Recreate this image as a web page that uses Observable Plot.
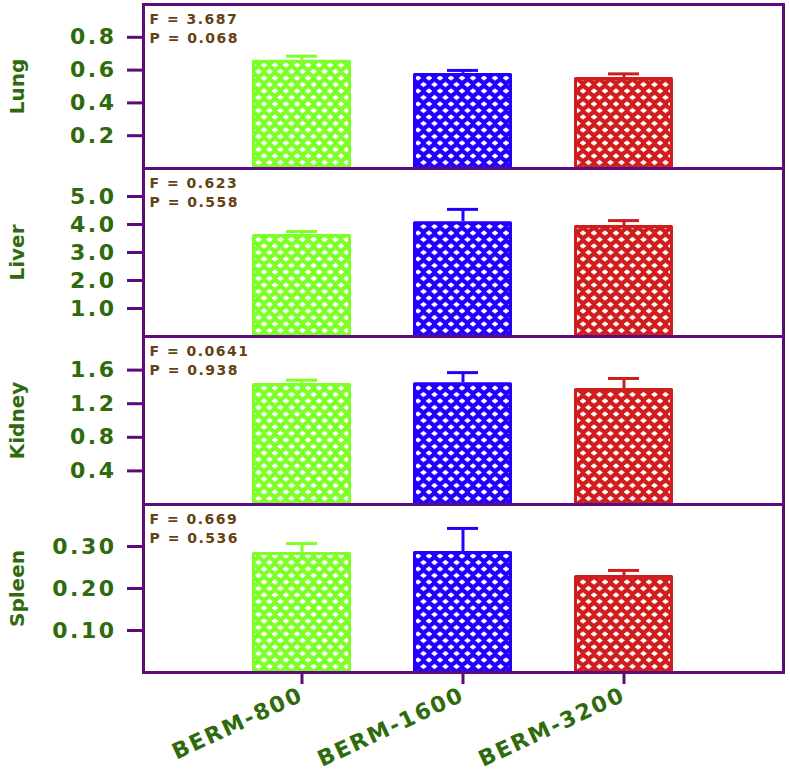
<!DOCTYPE html>
<html>
<head>
<meta charset="utf-8">
<script src="https://cdn.jsdelivr.net/npm/d3@7"></script>
<script src="https://cdn.jsdelivr.net/npm/@observablehq/plot@0.6"></script>
<style>
  html, body { margin: 0; padding: 0; background: white; }
  #chart { position: relative; width: 790px; height: 774px; }
  #chart svg { position: absolute; left: 0; overflow: visible; }
  g[aria-label="y-axis tick label"] text { letter-spacing: 2.5px; }
  g[aria-label="x-axis tick label"] text { letter-spacing: 2px; }
  .stat text { letter-spacing: 1.5px; }
</style>
</head>
<body>
<div id="chart"></div>
<script>
// ---- data ----
const groups = ["BERM-800", "BERM-1600", "BERM-3200"];
const organs = ["Lung", "Liver", "Kidney", "Spleen"];

const lungMean   = [0.66, 0.58, 0.555];
const lungErr    = [0.025, 0.018, 0.022];
const liverMean  = [3.64, 4.10, 3.96];
const liverErr   = [0.11, 0.44, 0.18];
const kidneyMean = [1.44, 1.45, 1.38];
const kidneyErr  = [0.04, 0.12, 0.12];
const spleenMean = [0.286, 0.288, 0.231];
const spleenErr  = [0.021, 0.055, 0.012];

const fValues = ["3.687", "0.623", "0.0641", "0.669"];
const pValues = ["0.068", "0.558", "0.938", "0.536"];

const lungTicks   = [0.2, 0.4, 0.6, 0.8];
const liverTicks  = [1, 2, 3, 4, 5];
const kidneyTicks = [0.4, 0.8, 1.2, 1.6];
const spleenTicks = [0.1, 0.2, 0.3];

const yDomains = [[0, 1], [0, 6], [0, 2], [0, 0.4]];
const tickFormats = [".1f", ".1f", ".1f", ".2f"];

// ---- styles ----
const barColors = ["#7fff2a", "#2200ff", "#d01e1e"];
const frameColor = "#5c0a7c";
const textGreen = "#2f6b0c";
const statBrown = "#634214";
const fontFamily = "'DejaVu Sans', sans-serif";

// patterns (lattice with white diamond holes)
const ns = "http://www.w3.org/2000/svg";
const defsSvg = document.createElementNS(ns, "svg");
defsSvg.setAttribute("width", 0);
defsSvg.setAttribute("height", 0);
defsSvg.style.position = "absolute";
const defs = document.createElementNS(ns, "defs");
const tw = 11, th = 13, hw = 2.9, hh = 2.2;
barColors.forEach((c, i) => {
  const p = document.createElementNS(ns, "pattern");
  p.setAttribute("id", "pat" + i);
  p.setAttribute("patternUnits", "userSpaceOnUse");
  p.setAttribute("width", tw);
  p.setAttribute("height", th);
  const r = document.createElementNS(ns, "rect");
  r.setAttribute("width", tw); r.setAttribute("height", th); r.setAttribute("fill", c);
  p.appendChild(r);
  [[0,0],[tw,0],[tw/2,th/2],[0,th],[tw,th]].forEach(([cx, cy]) => {
    const e = document.createElementNS(ns, "path");
    e.setAttribute("d", `M${cx - hw},${cy}L${cx},${cy - hh}L${cx + hw},${cy}L${cx},${cy + hh}Z`);
    e.setAttribute("fill", "white");
    e.setAttribute("stroke", "white");
    e.setAttribute("stroke-width", 0.8);
    e.setAttribute("stroke-linejoin", "round");
    p.appendChild(e);
  });
  defs.appendChild(p);
});
defsSvg.appendChild(defs);
document.body.appendChild(defsSvg);

const means = [lungMean, liverMean, kidneyMean, spleenMean];
const errs = [lungErr, liverErr, kidneyErr, spleenErr];
const ticksList = [lungTicks, liverTicks, kidneyTicks, spleenTicks];

const container = document.getElementById("chart");
const tops = [0, 168, 336, 504];

organs.forEach((organ, k) => {
  const last = k === organs.length - 1;
  const data = groups.map((g, i) => ({
    group: g, idx: i, value: means[k][i], hi: means[k][i] + errs[k][i]
  }));
  const marks = [];
  data.forEach(d => {
    marks.push(Plot.ruleX([d], {x: "group", y1: "value", y2: "hi", stroke: barColors[d.idx], strokeWidth: 3}));
    marks.push(Plot.tickY([d], {x: "group", y: "hi", stroke: barColors[d.idx], strokeWidth: 3, insetLeft: 34, insetRight: 34}));
    marks.push(Plot.barY([d], {x: "group", y: "value", fill: `url(#pat${d.idx})`, stroke: barColors[d.idx], strokeWidth: 3, strokeLinejoin: "round", insetTop: 1.5, insetLeft: 1.5, insetRight: 1.5}));
  });
  marks.push(Plot.frame({stroke: frameColor, strokeWidth: 3}));
  marks.push(Plot.axisY({
    ticks: ticksList[k], tickSize: 16, tickPadding: 11, tickFormat: d3.format(tickFormats[k]),
    stroke: frameColor, strokeWidth: 3, fill: textGreen, fontSize: 22, fontWeight: "bold", label: null
  }));
  marks.push(Plot.text([organ], {
    text: d => d, frameAnchor: "left", dx: -126, rotate: -90, textAnchor: "middle", lineAnchor: "middle",
    fill: textGreen, fontSize: 20, fontWeight: "bold"
  }));
  marks.push(Plot.text(["F = " + fValues[k]], {
    text: d => d, frameAnchor: "top-left", dx: 6, dy: 15, textAnchor: "start", lineAnchor: "middle",
    fill: statBrown, fontSize: 14, fontWeight: "bold", className: "stat"
  }));
  marks.push(Plot.text(["P = " + pValues[k]], {
    text: d => d, frameAnchor: "top-left", dx: 6, dy: 34, textAnchor: "start", lineAnchor: "middle",
    fill: statBrown, fontSize: 14, fontWeight: "bold", className: "stat"
  }));
  if (last) {
    marks.push(Plot.axisX({
      tickSize: 12, tickPadding: 9, tickRotate: -25,
      stroke: frameColor, strokeWidth: 3, fill: textGreen, fontSize: 22, fontWeight: "bold", label: null
    }));
  }
  const chart = Plot.plot({
    width: 790,
    height: last ? 268 : 168,
    marginLeft: 143,
    marginRight: 7,
    marginTop: k === 0 ? 4 : 0,
    marginBottom: last ? 100 : 0,
    style: {background: "transparent", overflow: "visible", fontFamily},
    x: {type: "band", domain: groups, paddingInner: 0.383, paddingOuter: 0.679, axis: null},
    y: {domain: yDomains[k], axis: null},
    marks
  });
  chart.style.top = tops[k] + "px";
  container.appendChild(chart);
});
</script>
</body>
</html>
